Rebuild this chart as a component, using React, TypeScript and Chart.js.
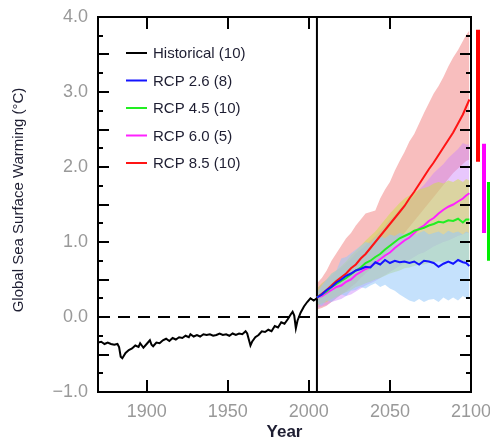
import React, { useEffect, useRef } from "react";
import { Chart, registerables } from "chart.js";

Chart.register(...registerables);

// ---------- data ----------
const histYears = [1870, 1872, 1874, 1876, 1878, 1880, 1882, 1883, 1884, 1885, 1887, 1889, 1891, 1893, 1895, 1896, 1898, 1900, 1902, 1903, 1904, 1906, 1908, 1910, 1912, 1914, 1916, 1918, 1920, 1922, 1924, 1926, 1927, 1929, 1931, 1933, 1935, 1937, 1939, 1941, 1943, 1945, 1947, 1949, 1951, 1953, 1955, 1957, 1959, 1961, 1962, 1963, 1964, 1965, 1967, 1969, 1971, 1973, 1975, 1977, 1979, 1981, 1983, 1985, 1987, 1989, 1990, 1991, 1992, 1993, 1995, 1997, 1999, 2001, 2003, 2005];
const histValues = [-0.34, -0.33, -0.36, -0.34, -0.36, -0.37, -0.36, -0.40, -0.53, -0.55, -0.48, -0.44, -0.42, -0.38, -0.40, -0.35, -0.41, -0.36, -0.31, -0.37, -0.39, -0.34, -0.35, -0.31, -0.29, -0.32, -0.28, -0.30, -0.27, -0.28, -0.25, -0.27, -0.23, -0.26, -0.24, -0.26, -0.23, -0.24, -0.23, -0.25, -0.24, -0.22, -0.24, -0.23, -0.25, -0.22, -0.24, -0.22, -0.23, -0.19, -0.22, -0.30, -0.38, -0.33, -0.27, -0.24, -0.19, -0.20, -0.17, -0.19, -0.12, -0.14, -0.07, -0.09, -0.03, 0.04, 0.07, 0.02, -0.15, -0.05, 0.06, 0.14, 0.20, 0.25, 0.22, 0.25];

const projYears = [2005, 2008, 2011, 2014, 2017, 2020, 2023, 2026, 2029, 2032, 2035, 2038, 2041, 2044, 2047, 2050, 2053, 2056, 2059, 2062, 2065, 2068, 2071, 2074, 2077, 2080, 2083, 2086, 2089, 2092, 2095, 2097, 2099];

const rcp26 = [0.26, 0.30, 0.36, 0.40, 0.46, 0.50, 0.55, 0.58, 0.62, 0.64, 0.67, 0.66, 0.73, 0.70, 0.76, 0.72, 0.75, 0.73, 0.74, 0.72, 0.74, 0.70, 0.75, 0.74, 0.72, 0.67, 0.71, 0.74, 0.71, 0.76, 0.73, 0.72, 0.68];
const rcp45 = [0.26, 0.30, 0.34, 0.40, 0.44, 0.48, 0.52, 0.57, 0.62, 0.66, 0.72, 0.75, 0.80, 0.84, 0.90, 0.95, 1.00, 1.05, 1.08, 1.11, 1.15, 1.17, 1.19, 1.22, 1.24, 1.27, 1.26, 1.29, 1.28, 1.31, 1.26, 1.30, 1.30];
const rcp60 = [0.26, 0.28, 0.32, 0.36, 0.40, 0.42, 0.47, 0.50, 0.56, 0.60, 0.64, 0.67, 0.72, 0.77, 0.82, 0.86, 0.92, 0.97, 1.02, 1.06, 1.12, 1.18, 1.22, 1.28, 1.32, 1.38, 1.43, 1.47, 1.50, 1.54, 1.58, 1.62, 1.65];
const rcp85 = [0.26, 0.31, 0.36, 0.42, 0.48, 0.53, 0.58, 0.65, 0.70, 0.78, 0.84, 0.92, 1.00, 1.08, 1.16, 1.24, 1.32, 1.40, 1.48, 1.58, 1.67, 1.77, 1.87, 1.97, 2.06, 2.16, 2.26, 2.36, 2.46, 2.58, 2.70, 2.80, 2.90];

const rcp26Low = [0.18, 0.15, 0.22, 0.20, 0.26, 0.30, 0.28, 0.35, 0.36, 0.40, 0.38, 0.42, 0.45, 0.40, 0.43, 0.38, 0.35, 0.30, 0.26, 0.22, 0.20, 0.24, 0.20, 0.23, 0.24, 0.20, 0.26, 0.22, 0.26, 0.22, 0.28, 0.25, 0.26];
const rcp26High = [0.32, 0.42, 0.50, 0.58, 0.62, 0.78, 0.80, 0.85, 0.90, 0.95, 1.00, 0.98, 1.05, 1.08, 1.05, 1.10, 1.08, 1.12, 1.10, 1.14, 1.10, 1.12, 1.15, 1.10, 1.12, 1.14, 1.10, 1.15, 1.12, 1.14, 1.10, 1.14, 1.12];
const rcp45Low = [0.15, 0.18, 0.20, 0.24, 0.27, 0.30, 0.33, 0.36, 0.40, 0.42, 0.45, 0.47, 0.50, 0.52, 0.55, 0.58, 0.60, 0.62, 0.65, 0.66, 0.68, 0.70, 0.70, 0.72, 0.73, 0.74, 0.73, 0.76, 0.75, 0.77, 0.74, 0.76, 0.76];
const rcp45High = [0.38, 0.45, 0.50, 0.58, 0.62, 0.68, 0.74, 0.82, 0.88, 0.95, 1.02, 1.08, 1.14, 1.22, 1.30, 1.38, 1.45, 1.52, 1.58, 1.62, 1.66, 1.70, 1.72, 1.74, 1.78, 1.80, 1.78, 1.82, 1.80, 1.84, 1.80, 1.84, 1.82];
const rcp60Low = [0.12, 0.14, 0.16, 0.20, 0.22, 0.24, 0.28, 0.30, 0.34, 0.38, 0.42, 0.45, 0.48, 0.52, 0.56, 0.60, 0.64, 0.68, 0.72, 0.76, 0.80, 0.84, 0.86, 0.90, 0.94, 0.97, 1.00, 1.02, 1.05, 1.08, 1.10, 1.12, 1.12];
const rcp60High = [0.38, 0.44, 0.50, 0.55, 0.62, 0.66, 0.72, 0.78, 0.85, 0.90, 0.96, 1.02, 1.08, 1.15, 1.22, 1.30, 1.36, 1.44, 1.50, 1.56, 1.62, 1.70, 1.76, 1.84, 1.92, 1.98, 2.04, 2.12, 2.18, 2.24, 2.32, 2.30, 2.30];
const rcp85Low = [0.10, 0.12, 0.15, 0.20, 0.25, 0.30, 0.34, 0.40, 0.45, 0.52, 0.58, 0.64, 0.70, 0.76, 0.84, 0.90, 0.98, 1.05, 1.12, 1.20, 1.28, 1.36, 1.44, 1.52, 1.60, 1.68, 1.76, 1.84, 1.92, 1.98, 2.04, 2.08, 2.10];
const rcp85High = [0.45, 0.52, 0.62, 0.75, 0.85, 0.95, 1.05, 1.12, 1.22, 1.30, 1.38, 1.40, 1.42, 1.58, 1.70, 1.80, 1.95, 2.08, 2.20, 2.34, 2.44, 2.58, 2.72, 2.85, 2.98, 3.08, 3.20, 3.34, 3.46, 3.56, 3.68, 3.76, 3.82];

const seriesLabels = ["Historical (10)", "RCP 2.6 (8)", "RCP 4.5 (10)", "RCP 6.0 (5)", "RCP 8.5 (10)"];
const seriesColors = ["#000000", "#1414ff", "#22ee22", "#ff22ff", "#ff1414"];

const rangeBarLabels = ["RCP 8.5", "RCP 6.0", "RCP 4.5"];
const rangeBarLow = [2.07, 1.12, 0.75];
const rangeBarHigh = [3.83, 2.31, 1.80];
const rangeBarColors = ["#ff0000", "#ff00ff", "#00ee00"];

const xTickValues = [1900, 1950, 2000, 2050, 2100];
const yTickValues = [-1, 0, 1, 2, 3, 4];
const xMin = 1870;
const xMax = 2100;
const yMin = -1;
const yMax = 4;
const projectionStartYear = 2005;
const zeroLevel = 0;

const xTitle = "Year";
const yTitle = "Global Sea Surface Warming (°C)";

// ---------- helpers ----------
const pts = (xs: number[], ys: number[]) => xs.map((x, i) => ({ x, y: ys[i] }));
const FONT = "'Liberation Sans', Arial, sans-serif";

const decorPlugin = {
  id: "decor",
  afterDatasetsDraw(chart: any) {
    const { ctx, chartArea, scales } = chart;
    const { left, right, top, bottom } = chartArea;
    const x = scales.x;
    const y = scales.y;
    ctx.save();
    // frame
    ctx.strokeStyle = "#000";
    ctx.lineWidth = 2;
    ctx.strokeRect(left, top, right - left, bottom - top);
    // inward ticks
    ctx.beginPath();
    for (const v of xTickValues) {
      const px = Math.round(x.getPixelForValue(v));
      ctx.moveTo(px, bottom);
      ctx.lineTo(px, bottom - 12);
      ctx.moveTo(px, top);
      ctx.lineTo(px, top + 12);
    }
    for (let k = yMin * 4; k <= yMax * 4; k++) {
      const v = k / 4;
      const py = Math.round(y.getPixelForValue(v));
      const len = k % 2 === 0 ? 11 : 5;
      ctx.moveTo(left, py);
      ctx.lineTo(left + len, py);
      ctx.moveTo(right, py);
      ctx.lineTo(right - len, py);
    }
    ctx.stroke();

    // range bars beside the plot
    const barOffsets = [5, 11, 16];
    rangeBarLabels.forEach((_, i) => {
      const y1 = y.getPixelForValue(rangeBarHigh[i]);
      const y2 = y.getPixelForValue(rangeBarLow[i]);
      ctx.fillStyle = rangeBarColors[i];
      ctx.fillRect(right + barOffsets[i], y1, 4, y2 - y1);
    });

    // legend
    ctx.font = `15px ${FONT}`;
    ctx.textBaseline = "middle";
    ctx.textAlign = "left";
    seriesLabels.forEach((label, i) => {
      const ly = 53 + i * 27.5;
      ctx.strokeStyle = seriesColors[i];
      ctx.lineWidth = 2;
      ctx.beginPath();
      ctx.moveTo(126, ly);
      ctx.lineTo(147, ly);
      ctx.stroke();
      ctx.fillStyle = "#1e1e32";
      ctx.fillText(label, 153, ly + 1);
    });

    // y title
    ctx.translate(19, 200);
    ctx.rotate(-Math.PI / 2);
    ctx.font = `15px ${FONT}`;
    ctx.textAlign = "center";
    ctx.textBaseline = "middle";
    ctx.fillStyle = "#1e1e32";
    ctx.fillText(yTitle, 0, 0);
    ctx.restore();
  },
};

export default function App() {
  const canvasRef = useRef<HTMLCanvasElement | null>(null);

  useEffect(() => {
    const canvas = canvasRef.current;
    if (!canvas) return;
    const line = (label: string, data: any[], color: string, extra: any = {}) => ({
      label,
      data,
      borderColor: color,
      backgroundColor: color,
      borderWidth: 2,
      pointRadius: 0,
      tension: 0,
      fill: false,
      ...extra,
    });
    const bandLow = (label: string, data: number[]) => ({
      label,
      data: pts(projYears, data),
      borderWidth: 0,
      borderColor: "rgba(0,0,0,0)",
      pointRadius: 0,
      fill: false,
    });
    const bandHigh = (label: string, data: number[], color: string) => ({
      label,
      data: pts(projYears, data),
      borderWidth: 0,
      borderColor: "rgba(0,0,0,0)",
      backgroundColor: color,
      pointRadius: 0,
      fill: "-1",
    });

    const chart = new Chart(canvas, {
      type: "line",
      data: {
        datasets: [
          line(seriesLabels[0], pts(histYears, histValues), seriesColors[0]),
          line(seriesLabels[1], pts(projYears, rcp26), seriesColors[1]),
          line(seriesLabels[2], pts(projYears, rcp45), seriesColors[2]),
          line(seriesLabels[3], pts(projYears, rcp60), seriesColors[3]),
          line(seriesLabels[4], pts(projYears, rcp85), seriesColors[4]),
          line("Zero", [{ x: xMin, y: zeroLevel }, { x: xMax, y: zeroLevel }], "#000", { borderDash: [12, 8] }),
          line("Projection start", [{ x: projectionStartYear, y: yMin }, { x: projectionStartYear, y: yMax }], "#000"),
          bandLow("RCP 2.6 low", rcp26Low),
          bandHigh("RCP 2.6 high", rcp26High, "rgba(150,200,250,0.55)"),
          bandLow("RCP 4.5 low", rcp45Low),
          bandHigh("RCP 4.5 high", rcp45High, "rgba(205,225,70,0.5)"),
          bandLow("RCP 6.0 low", rcp60Low),
          bandHigh("RCP 6.0 high", rcp60High, "rgba(205,130,250,0.45)"),
          bandLow("RCP 8.5 low", rcp85Low),
          bandHigh("RCP 8.5 high", rcp85High, "rgba(240,120,120,0.48)"),
        ],
      },
      options: {
        responsive: false,
        animation: false,
        devicePixelRatio: 1,
        layout: { padding: { left: 0, right: 19, top: 17, bottom: 0 } },
        plugins: {
          legend: { display: false },
          tooltip: { enabled: false },
        },
        scales: {
          x: {
            type: "linear",
            min: xMin,
            max: xMax,
            grid: { display: false, drawTicks: false },
            border: { display: false },
            afterBuildTicks: (scale: any) => {
              scale.ticks = xTickValues.map((v) => ({ value: v }));
            },
            afterFit: (scale: any) => {
              scale.height = 54;
              scale.paddingLeft = 0;
              scale.paddingRight = 0;
              scale.paddingTop = 0;
              scale.paddingBottom = 0;
            },
            ticks: {
              padding: 9,
              color: "#999",
              font: { family: FONT, size: 18 },
              maxRotation: 0,
              callback: (v: any) => String(v),
            },
            title: {
              display: true,
              text: xTitle,
              color: "#1e1e32",
              font: { family: FONT, size: 17, weight: "bold" },
              padding: { top: 0, bottom: 3 },
            },
          },
          y: {
            type: "linear",
            min: yMin,
            max: yMax,
            grid: { display: false, drawTicks: false },
            border: { display: false },
            afterBuildTicks: (scale: any) => {
              scale.ticks = yTickValues.map((v) => ({ value: v }));
            },
            afterFit: (scale: any) => {
              scale.width = 98;
              scale.paddingLeft = 0;
              scale.paddingRight = 0;
              scale.paddingTop = 0;
              scale.paddingBottom = 0;
            },
            ticks: {
              padding: 10,
              color: "#999",
              font: { family: FONT, size: 18 },
              callback: (v: any) => (v < 0 ? "\u2212" + Math.abs(v).toFixed(1) : Number(v).toFixed(1)),
            },
          },
        },
      },
      plugins: [decorPlugin],
    } as any);
    return () => chart.destroy();
  }, []);

  return (
    <div style={{ position: "absolute", left: 0, top: 0, width: 490, height: 446, background: "#fff" }}>
      <canvas ref={canvasRef} width={490} height={446} style={{ width: 490, height: 446, display: "block" }} />
    </div>
  );
}
